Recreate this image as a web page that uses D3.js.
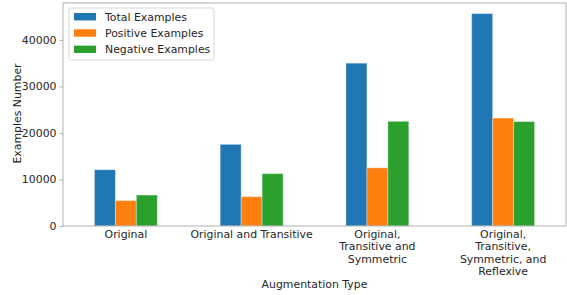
<!DOCTYPE html>
<html>
<head>
<meta charset="utf-8">
<script src="https://cdn.jsdelivr.net/npm/d3@7"></script>
<style>
  body { margin: 0; background: #fff; }
  text { font-family: "DejaVu Sans", sans-serif; fill: #262626; }
</style>
</head>
<body>
<svg id="chart" width="567" height="295"></svg>
<script>
// augmentation types, one label line per entry
var categories = [
    ['Original'],
    ['Original and Transitive'],
    ['Original,', 'Transitive and', 'Symmetric'],
    ['Original,', 'Transitive,', 'Symmetric, and', 'Reflexive']
];
var seriesNames = ['Total Examples', 'Positive Examples', 'Negative Examples'];
var totalExamples = [12100, 17550, 35000, 45650];
var positiveExamples = [5450, 6300, 12500, 23200];
var negativeExamples = [6650, 11250, 22500, 22450];
var yTicks = [0, 10000, 20000, 30000, 40000];

var colors = ['#1f77b4', '#ff7f0e', '#2ca02c'];
var values = [totalExamples, positiveExamples, negativeExamples];
var fontSize = '10.9px';

var svg = d3.select('#chart');
var margin = {left: 63, right: 1, top: 3, bottom: 69};
var width = 567 - margin.left - margin.right;
var height = 295 - margin.top - margin.bottom;

var g = svg.append('g')
    .attr('transform', 'translate(' + margin.left + ',' + margin.top + ')');

var x0 = d3.scaleBand()
    .domain(d3.range(categories.length))
    .range([0, width])
    .paddingInner(0.5)
    .paddingOuter(0.25);

var x1 = d3.scaleBand()
    .domain(d3.range(seriesNames.length))
    .range([0, x0.bandwidth()]);

var ymax = d3.max(totalExamples) * 1.05;
var y = d3.scaleLinear().domain([0, ymax]).range([height, 0]);

// bars
seriesNames.forEach(function(name, s) {
    g.selectAll('.bar-' + s)
        .data(values[s])
        .enter()
        .append('rect')
        .attr('x', function(d, i) { return x0(i) + x1(s); })
        .attr('y', function(d) { return y(d); })
        .attr('width', x1.bandwidth())
        .attr('height', function(d) { return height - y(d); })
        .style('fill', colors[s])
        .style('stroke', 'rgba(255,255,255,0.35)')
        .style('stroke-width', 1);
});

// y axis
var yAxis = g.append('g')
    .call(d3.axisLeft(y).tickValues(yTicks).tickFormat(d3.format('d')).tickSize(3.5).tickPadding(3));
yAxis.select('.domain').remove();
yAxis.selectAll('line').style('stroke', '#b0b0b0');
yAxis.selectAll('text').style('font-size', fontSize).style('fill', '#262626');

// x axis ticks, multi-line labels
var xAxis = g.append('g').attr('transform', 'translate(0,' + height + ')')
    .call(d3.axisBottom(x0).tickSize(0).tickFormat(''));
xAxis.select('.domain').remove();

xAxis.selectAll('.tick').each(function(d) {
    var t = d3.select(this).append('text')
        .attr('text-anchor', 'middle')
        .style('font-size', fontSize);
    categories[d].forEach(function(line, k) {
        t.append('tspan')
            .attr('x', 0)
            .attr('y', 12 + k * 12.4)
            .text(line);
    });
});

// spines
g.append('rect')
    .attr('x', 0).attr('y', 0)
    .attr('width', width).attr('height', height)
    .style('fill', 'none')
    .style('stroke', '#b0b0b0')
    .style('stroke-width', 1);

// axis titles
svg.append('text')
    .attr('transform', 'translate(21,' + (margin.top + height / 2 - 1) + ') rotate(-90)')
    .attr('text-anchor', 'middle')
    .style('font-size', fontSize)
    .text('Examples Number');

svg.append('text')
    .attr('x', margin.left + width / 2)
    .attr('y', 288)
    .attr('text-anchor', 'middle')
    .style('font-size', fontSize)
    .text('Augmentation Type');

// legend
var legend = g.append('g').attr('transform', 'translate(6,5)');
legend.append('rect')
    .attr('width', 145).attr('height', 52)
    .attr('rx', 2)
    .style('fill', 'rgba(255,255,255,0.8)')
    .style('stroke', '#d8d8d8');

var items = legend.selectAll('.item')
    .data(seriesNames)
    .enter()
    .append('g')
    .attr('transform', function(d, i) { return 'translate(5,' + (8.7 + i * 16.3) + ')'; });

items.append('rect')
    .attr('x', 0).attr('y', -3.7)
    .attr('width', 22).attr('height', 7.4)
    .style('fill', function(d, i) { return colors[i]; });

items.append('text')
    .attr('x', 31)
    .attr('y', 0)
    .attr('dy', '0.35em')
    .style('font-size', fontSize)
    .text(function(d) { return d; });
</script>
</body>
</html>
